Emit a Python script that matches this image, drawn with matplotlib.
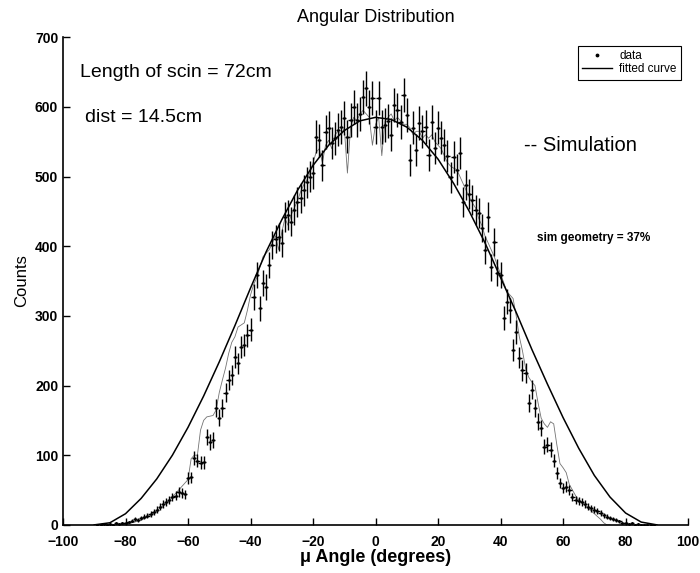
import numpy as np
import matplotlib.pyplot as plt
from matplotlib.lines import Line2D

plt.rcParams['font.family'] = ['Liberation Sans', 'DejaVu Sans']

# measured counts, one bin per degree from -89 to 89
angle = np.arange(-89, 90)
counts = np.array([
    0, 0, 1, 0, 1, 0, 2, 1, 3, 2,
    4, 6, 8, 7, 10, 12, 13, 16, 19, 22,
    26, 30, 33, 36, 40, 42, 47, 46, 44, 67,
    68, 96, 92, 89, 90, 126, 119, 122, 168, 154,
    168, 190, 208, 215, 241, 232, 255, 258, 272, 280,
    327, 359, 311, 347, 342, 373, 402, 410, 413, 404,
    442, 445, 435, 452, 463, 469, 480, 492, 500, 505,
    557, 552, 516, 564, 570, 548, 555, 567, 571, 584,
    557, 581, 600, 581, 590, 614, 627, 600, 613, 571,
    613, 571, 574, 580, 560, 603, 596, 578, 617, 588,
    524, 570, 538, 577, 565, 571, 531, 578, 541, 570,
    556, 545, 530, 499, 528, 510, 534, 463, 488, 475,
    466, 452, 448, 426, 395, 442, 370, 406, 362, 359,
    297, 320, 308, 251, 277, 240, 222, 218, 175, 194,
    168, 148, 139, 112, 115, 108, 92, 75, 60, 53,
    55, 50, 40, 36, 34, 33, 30, 26, 24, 22,
    20, 17, 14, 12, 10, 9, 7, 5, 3, 2,
    1, 3, 0, 1, 0, 0, 0, 0, 0,
])

# simulation, -82 to 75 degrees
sim_angle = np.arange(-82, 76)
sim_counts = np.array([
    0, 0, 1, 2, 3, 4, 6, 7, 9, 11,
    14, 17, 20, 24, 27, 31, 35, 40, 45, 50,
    55, 60, 65, 95, 100, 100, 136, 150, 155, 156,
    157, 165, 190, 208, 225, 246, 262, 270, 284, 287,
    290, 308, 330, 345, 355, 370, 385, 390, 395, 405,
    415, 395, 420, 440, 430, 445, 455, 465, 478, 488,
    495, 505, 520, 535, 540, 520, 545, 552, 540, 560,
    565, 560, 570, 505, 570, 585, 580, 590, 595, 590,
    585, 545, 575, 585, 530, 580, 585, 590, 580, 585,
    580, 575, 575, 570, 560, 565, 565, 555, 560, 555,
    560, 550, 545, 540, 530, 520, 515, 512, 510, 500,
    490, 480, 470, 462, 455, 440, 430, 415, 405, 395,
    385, 372, 360, 348, 335, 330, 325, 300, 270, 250,
    225, 212, 205, 200, 175, 153, 145, 140, 148, 145,
    115, 88, 82, 75, 58, 50, 42, 36, 32, 28,
    24, 20, 16, 12, 8, 3, 0, 0,
])

# fitted curve, read every 5 degrees
fit_angle = np.arange(-90, 91, 5)
fit_counts = np.array([
    0, 3, 16, 38, 66, 100, 140, 185, 234, 286,
    340, 392, 438, 480, 516, 545, 566, 580, 585, 582,
    571, 552, 525, 490, 450, 405, 355, 305, 252, 202,
    154, 110, 71, 40, 17, 4, 0,
])

fig = plt.figure(figsize=(7, 5.73), dpi=100)
ax = fig.add_axes([0.09, 0.084, 0.893, 0.851])

ax.plot(sim_angle, sim_counts, color='0.45', lw=0.6)
ax.plot(fit_angle, fit_counts, color='k', lw=1.1)
ax.errorbar(angle, counts, yerr=np.sqrt(counts), xerr=0.7, fmt='.', color='k',
            ms=2, elinewidth=1.0, capsize=0)

ax.set_xlim(-100, 100)
ax.set_ylim(0, 700)
ax.set_xticks(np.arange(-100, 101, 20))
ax.set_yticks(np.arange(0, 701, 100))
ax.tick_params(direction='in', length=5, width=1, labelsize=10)
ax.tick_params(axis='x', pad=7)
for lab in ax.get_xticklabels() + ax.get_yticklabels():
    lab.set_fontweight('bold')
ax.spines['top'].set_visible(False)
ax.spines['right'].set_visible(False)
for s in ('left', 'bottom'):
    ax.spines[s].set_linewidth(1.2)

ax.set_title('Angular Distribution', fontsize=13, pad=11)
ax.set_xlabel('\u03bc Angle (degrees)', fontsize=13, fontweight='bold', labelpad=0)
ax.set_ylabel('Counts', fontsize=12, labelpad=4)

ax.text(-94.5, 650, 'Length of scin = 72cm', fontsize=14, va='center')
ax.text(-93, 585, 'dist = 14.5cm', fontsize=14, va='center')
ax.text(47.5, 545, '-- Simulation', fontsize=14.5, va='center')
ax.text(51.5, 412, 'sim geometry = 37%', fontsize=8.5, fontweight='bold', va='center')

handles = [Line2D([], [], ls='none', marker='.', ms=3.5, color='k'),
           Line2D([], [], color='k', lw=1)]
leg = ax.legend(handles, ['data', 'fitted curve'], loc='upper right',
                bbox_to_anchor=(0.998, 0.995), fontsize=8.5, fancybox=False,
                edgecolor='k', framealpha=1, handlelength=2.6,
                borderpad=0.35, labelspacing=0.15, handletextpad=0.6)
leg.get_frame().set_linewidth(0.8)

fig.savefig('out.png', dpi=100)
